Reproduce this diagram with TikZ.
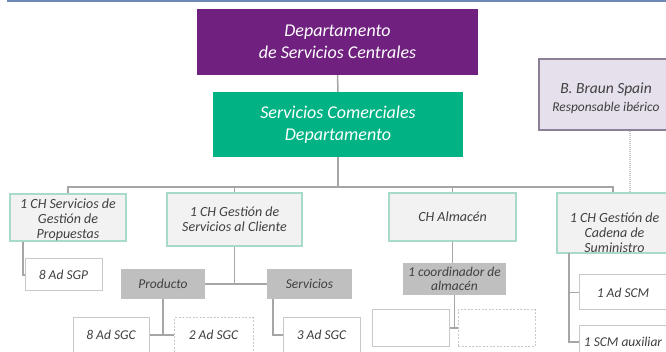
\documentclass[tikz,border=0pt]{standalone}
\usepackage{fontspec}
\setmainfont{Carlito}
\usepackage{xcolor}
\definecolor{deptpurple}{RGB}{112,32,126}
\definecolor{deptgreen}{RGB}{0,178,132}
\definecolor{boxlilac}{RGB}{229,224,236}
\definecolor{lilacedge}{RGB}{140,128,150}
\definecolor{boxlight}{RGB}{242,242,242}
\definecolor{tealedge}{RGB}{168,218,200}
\definecolor{boxgray}{RGB}{191,191,191}
\definecolor{linegray}{RGB}{166,166,166}
\definecolor{edgegray}{RGB}{200,200,200}
\definecolor{textgray}{RGB}{64,64,64}
\definecolor{topblue}{RGB}{112,136,184}
\usepackage{tikz}
\usetikzlibrary{positioning, calc}

\begin{document}
\begin{tikzpicture}[
    x=1pt, y=-1pt,
    dept/.style={rectangle, inner sep=0pt, align=center, text=white,
                 font=\fontsize{18}{22}\selectfont\itshape},
    chbox/.style={rectangle, draw=tealedge, line width=1.2pt, fill=boxlight,
                  inner sep=0pt, align=center, text=textgray,
                  font=\fontsize{14}{15}\selectfont\itshape},
    chtext/.style={inner sep=0pt, align=center, text=textgray,
                   font=\fontsize{14}{15}\selectfont\itshape},
    graybox/.style={rectangle, fill=boxgray, inner sep=0pt, align=center,
                    text=textgray, font=\fontsize{13.5}{14.5}\selectfont\itshape},
    adbox/.style={rectangle, draw=edgegray, line width=1pt, fill=white,
                  inner sep=0pt, minimum width=77, minimum height=34,
                  text=textgray, font=\fontsize{13.5}{14}\selectfont\itshape},
    adboxdash/.style={adbox, dash pattern=on 2pt off 1.5pt},
    link/.style={draw=linegray, line width=1.5pt},
    dotlink/.style={draw=edgegray, line width=1.5pt, dash pattern=on 1pt off 1pt}
]
\useasboundingbox (0,0) rectangle (666,352);
\draw[topblue, line width=1.5pt] (7,1) -- (666,1);

% top of the chart
\node[dept, fill=deptpurple, minimum width=281, minimum height=66] (dep) at (337.5,42)
    {Departamento\\de Servicios Centrales};
\node[dept, fill=deptgreen, minimum width=250, minimum height=65] (com) at (338,124.5)
    {Servicios Comerciales\\Departamento};
\node[rectangle, draw=lilacedge, line width=1.5pt, fill=boxlilac,
      minimum width=133, minimum height=71] (braun) at (605.5,94.5) {};
\node[inner sep=0pt, align=center, text=textgray,
      font=\fontsize{15.5}{18}\selectfont\itshape] (brauntxt) at (606,98)
    {B. Braun Spain\\{\fontsize{13.4}{16}\selectfont Responsable ibérico}};

% chiefs
\node[chbox, minimum width=116, minimum height=47] (prop) at (68,217.5) {};
\node[chtext] (proptxt) at (68,220) {1 CH Servicios de\\Gestión de\\Propuestas};
\node[chbox, minimum width=135, minimum height=53] (cli) at (234.5,219.5)
    {1 CH Gestión de\\Servicios al Cliente};
\node[chbox, minimum width=127, minimum height=48] (alm) at (452.5,217) {CH Almacén};
\node[chbox, minimum width=115, minimum height=60] (cad) at (614.5,223) {};
\node[chtext] (cadtxt) at (614.5,233) {1 CH Gestión de\\Cadena de\\Suministro};

% second level
\node[adbox, minimum width=77, minimum height=32] (sgp) at (63.5,275) {8 Ad SGP};
\node[graybox, minimum width=84, minimum height=30] (prod) at (163,284) {Producto};
\node[graybox, minimum width=85, minimum height=30] (serv) at (309.5,284) {Servicios};
\node[graybox, minimum width=103, minimum height=32] (coord) at (454.5,279)
    {1 coordinador de\\almacén};
\node[adbox, minimum width=88, minimum height=35] (scm1) at (623,292.5) {1 Ad SCM};
\node[adbox, minimum width=88, minimum height=34] (scmaux) at (623,342) {1 SCM auxiliar};

% third level
\node[adbox, minimum width=76] (sgc8) at (111,335) {8 Ad SGC};
\node[adboxdash, minimum width=79] (sgc2) at (213.5,335) {2 Ad SGC};
\node[adbox] (sgc3) at (321.5,335) {3 Ad SGC};
\node[adbox, minimum height=36] (emptya) at (410.5,328) {};
\node[adboxdash, minimum height=36] (emptyb) at (496.5,328) {};

% connectors
\coordinate (busr) at (613,187);
\coordinate (cadstem) at (569,253);
\draw[link] (dep.south) -- (com.north);
\draw[link] (com.south) -- (com.south |- busr);
\draw[link] (prop.north) |- (busr) -- (busr |- cad.north);
\draw[link] (cli.north) -- (cli.north |- busr);
\draw[link] (alm.north) -- (alm.north |- busr);
\draw[dotlink] ([xshift=24.5pt]braun.south) -- ([xshift=24.5pt]braun.south |- cad.north);

\draw[link] ([xshift=-45pt]prop.south) |- (sgp.west);
\draw[link] (cli.south) -- (cli.south |- prod.east);
\draw[link] (prod.east) -- (serv.west);
\draw[link] (prod.south) -- (prod.south |- sgc8.east);
\draw[link] (sgc8.east) -- (sgc2.west);
\draw[link] ([xshift=-36.5pt]serv.south) |- (sgc3.west);
\draw[link] (alm.south) -- (alm.south |- coord.north);
\draw[link] (coord.south) -- (coord.south |- emptya.east);
\draw[link] (emptya.east) -- (emptyb.west);
\draw[link] (cadstem) |- (scmaux.west);
\draw[link] (scm1.west) -- (scm1.west -| cadstem);
\end{tikzpicture}
\end{document}
